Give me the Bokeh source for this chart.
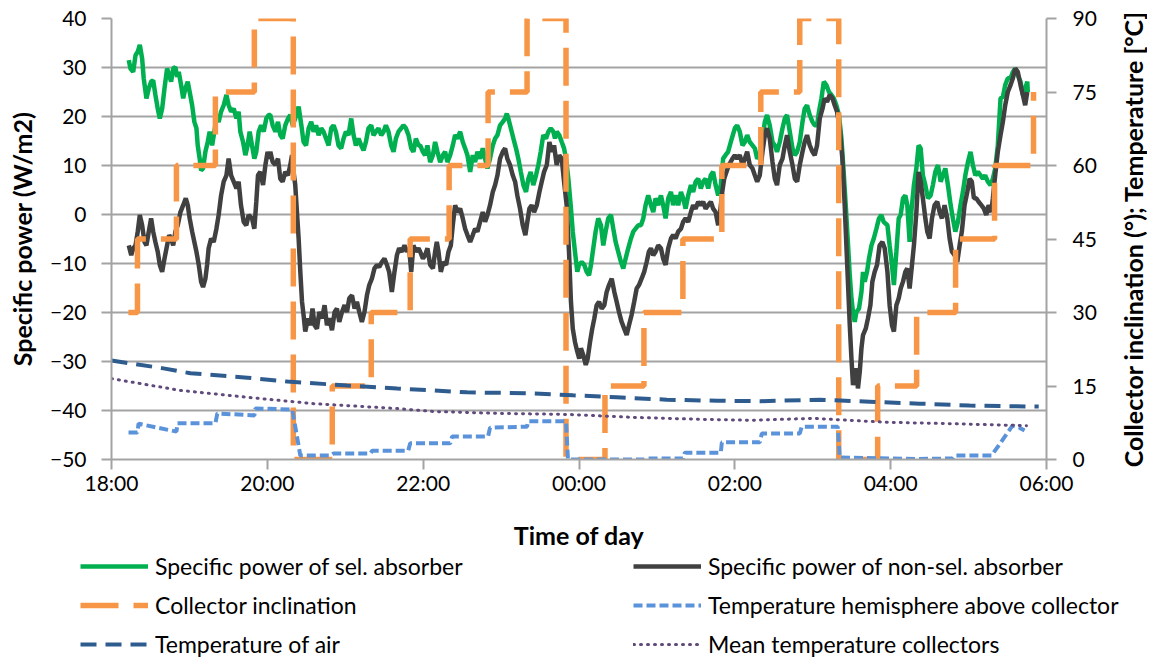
import math
from bokeh.plotting import figure
from bokeh.models import Range1d, LinearAxis, FixedTicker, Legend, LegendItem
from bokeh.core.properties import value
from bokeh.layouts import column, row
from bokeh.embed import file_html
from bokeh.resources import INLINE

FONT = "Lato"

# ---- axes ----
TIME_TICKS = [0, 120, 240, 360, 480, 600, 720]          # minutes after 18:00
TIME_LABELS = ["18:00", "20:00", "22:00", "00:00", "02:00", "04:00", "06:00"]
POWER_TICKS = [-50, -40, -30, -20, -10, 0, 10, 20, 30, 40]
TEMP_TICKS = [0, 15, 30, 45, 60, 75, 90]
RIGHT_TITLE = "Collector inclination (°); Temperature [°C]"

# ---- specific power of selective absorber (minutes after 18:00, W/m2) ----
SEL = [
    (13.3, 31.5), (14.6, 29.8), (16.7, 29.1), (18.5, 32.5), (20.2, 33.2), (21.8, 34.6), (23.6, 31.8),
    (24.8, 27.8), (26.9, 23.7), (28.7, 25.7), (30.5, 27.1), (32.1, 27.4), (33.8, 24.4), (35.6, 21.6),
    (37.2, 19.6), (39.0, 21.6), (40.8, 25.7), (42.8, 29.8), (44.4, 28.4), (45.9, 27.1), (47.5, 29.8),
    (49.2, 30.1), (50.5, 28.1), (51.8, 29.1), (53.6, 26.4), (55.2, 23.7), (56.9, 25.7), (58.7, 27.1),
    (60.2, 25.0), (62.1, 22.3), (63.8, 18.9), (65.4, 17.6), (66.4, 14.1), (67.9, 11.4), (69.0, 9.0),
    (70.5, 9.4), (72.3, 12.8), (74.1, 14.8), (75.6, 16.9), (77.5, 14.1), (79.2, 16.9), (80.8, 19.6),
    (82.5, 18.9), (84.4, 21.0), (86.4, 22.3), (88.5, 24.4), (90.2, 22.3), (92.1, 21.0), (94.1, 21.6),
    (96.2, 19.6), (97.9, 21.0), (99.2, 16.9), (101.3, 14.8), (103.1, 12.1), (104.8, 14.1), (106.4, 16.9),
    (108.2, 14.1), (110.0, 11.4), (111.5, 12.8), (113.3, 16.9), (115.2, 18.2), (117.2, 16.9), (119.2, 19.6),
    (121.0, 20.3), (122.3, 20.3), (124.1, 18.2), (126.2, 16.9), (128.2, 18.9), (130.0, 16.2), (131.8, 15.5),
    (133.8, 18.2), (135.9, 19.6), (137.7, 20.3), (139.5, 18.2), (141.5, 19.6), (144.1, 22.0), (146.2, 18.2),
    (147.9, 14.8), (149.8, 14.1), (151.8, 17.6), (153.8, 18.9), (155.6, 16.9), (157.5, 18.2), (159.5, 16.2),
    (161.5, 17.6), (163.3, 16.9), (165.2, 15.5), (167.2, 14.1), (169.2, 17.6), (171.0, 18.2), (172.8, 16.9),
    (174.8, 14.1), (176.9, 13.5), (178.7, 15.5), (180.5, 16.9), (182.5, 16.2), (184.6, 19.6), (186.4, 16.2),
    (188.2, 14.1), (190.2, 15.5), (192.3, 14.1), (194.1, 13.1), (195.9, 14.8), (197.9, 17.6), (200.0, 18.2),
    (201.8, 16.2), (203.6, 16.9), (205.6, 17.6), (207.7, 16.2), (209.5, 16.9), (211.3, 18.2), (213.3, 16.9),
    (215.4, 14.1), (217.2, 12.8), (219.0, 15.5), (221.0, 16.9), (223.1, 17.6), (224.8, 18.2), (226.7, 17.6),
    (228.7, 16.2), (230.8, 13.5), (232.5, 12.8), (234.4, 15.5), (236.4, 14.1), (237.7, 14.1), (239.8, 12.8),
    (241.5, 12.1), (243.3, 14.1), (245.4, 10.7), (247.5, 12.1), (249.2, 14.8), (251.0, 12.8), (253.1, 10.7),
    (255.2, 12.1), (256.9, 12.8), (258.7, 10.7), (260.8, 12.1), (262.8, 14.1), (264.6, 16.2), (266.4, 15.5),
    (268.5, 16.9), (270.5, 14.8), (272.3, 13.5), (274.1, 12.1), (276.2, 8.7), (278.2, 12.1), (280.0, 10.7),
    (281.8, 12.8), (283.8, 11.4), (285.9, 13.5), (287.7, 11.4), (289.5, 9.4), (291.5, 11.4), (293.6, 14.1),
    (295.4, 15.5), (297.2, 16.2), (299.2, 18.2), (301.3, 18.9), (303.1, 19.6), (304.4, 20.6), (305.6, 19.6),
    (307.5, 17.6), (309.5, 15.5), (311.5, 13.5), (313.3, 11.4), (315.2, 8.7), (317.2, 6.0), (319.2, 4.6),
    (321.0, 7.3), (322.8, 8.7), (324.8, 6.0), (326.9, 8.0), (328.7, 10.1), (330.5, 12.8), (332.5, 16.2),
    (334.6, 15.5), (336.4, 16.9), (338.2, 17.6), (340.2, 16.9), (341.5, 15.5), (342.8, 16.9), (344.8, 16.2),
    (346.7, 14.8), (348.5, 13.5), (350.0, 11.4), (351.8, 7.3), (353.6, 1.9), (355.2, -3.5), (356.9, -7.6),
    (358.7, -11.7), (360.0, -10.3), (362.1, -9.7), (364.1, -10.3), (365.9, -11.7), (367.7, -12.4),
    (369.2, -10.3), (371.0, -6.9), (372.8, -3.5), (374.8, -0.8), (376.9, -2.2), (378.7, -6.3), (380.5, -3.5),
    (382.5, -0.8), (384.6, -0.1), (386.4, -2.9), (388.2, -5.6), (390.2, -7.6), (392.3, -9.7), (394.1, -11.0),
    (395.9, -9.0), (397.9, -6.9), (400.0, -4.9), (401.8, -3.5), (403.6, -2.9), (405.6, -2.2), (407.7, -2.2),
    (409.5, -0.8), (411.3, 1.9), (413.3, 3.9), (415.4, 1.9), (417.2, 0.5), (419.0, 3.3), (421.0, 1.9),
    (423.1, 3.9), (424.8, 1.9), (426.7, -0.8), (428.7, 3.3), (430.8, 4.6), (432.5, 1.9), (434.4, 3.9),
    (436.4, 1.9), (438.5, 4.6), (440.2, 3.3), (442.1, 1.2), (444.1, 3.9), (446.2, 6.0), (447.9, 4.6),
    (449.8, 6.7), (451.8, 7.3), (453.8, 5.3), (455.6, 6.7), (457.5, 7.3), (459.5, 5.3), (461.5, 8.0),
    (463.3, 8.7), (465.2, 6.0), (467.2, 3.9), (469.2, 6.0), (471.0, 11.4), (472.8, 12.1), (474.8, 12.8),
    (476.9, 14.8), (480.0, 17.6), (481.8, 18.2), (483.8, 16.9), (485.9, 14.1), (487.7, 14.8), (489.5, 16.2),
    (491.5, 14.8), (493.6, 14.1), (495.4, 13.5), (497.2, 11.4), (499.2, 12.1), (501.3, 15.5), (503.1, 18.9),
    (504.8, 20.3), (506.9, 18.2), (509.0, 14.8), (510.8, 14.1), (512.5, 12.8), (514.6, 14.8), (516.7, 17.6),
    (518.5, 19.6), (520.2, 20.3), (522.3, 16.9), (524.4, 13.5), (526.2, 12.1), (528.0, 12.8), (530.0, 14.8),
    (532.1, 18.9), (533.8, 21.6), (535.6, 22.3), (537.7, 20.3), (539.8, 18.9), (541.5, 18.2), (543.3, 18.2),
    (544.8, 21.0), (546.7, 23.7), (548.5, 27.1), (550.5, 26.4), (552.5, 25.0), (554.4, 24.4), (556.2, 23.7),
    (558.2, 22.3), (560.2, 20.3), (562.1, 15.5), (563.8, 8.7), (565.4, 1.9), (567.2, -6.3), (568.5, -12.4),
    (569.8, -17.1), (571.0, -19.9), (572.3, -21.9), (573.6, -19.9), (575.6, -19.2), (577.5, -15.8),
    (578.7, -11.7), (580.0, -13.7), (581.8, -11.7), (583.3, -9.0), (585.2, -6.3), (587.0, -4.9),
    (589.0, -2.9), (591.0, -0.8), (592.8, -0.1), (594.6, -1.5), (597.5, -2.2), (599.2, -6.3), (601.0, -10.3),
    (602.5, -14.4), (604.4, -7.6), (606.2, -0.8), (607.7, -0.1), (609.5, 3.3), (611.3, 3.9), (612.8, 1.9),
    (614.6, -5.6), (615.9, 0.5), (617.9, 6.0), (619.8, 9.4), (621.5, 14.1), (623.1, 13.5), (624.8, 8.0),
    (626.7, 6.0), (628.7, 3.3), (630.8, 3.9), (632.5, 6.0), (634.4, 8.7), (636.4, 10.1), (638.5, 6.7),
    (640.2, 8.0), (642.1, 9.4), (644.1, 6.0), (646.2, 1.9), (647.9, -0.8), (649.8, -3.5), (651.8, -1.5),
    (653.8, 1.9), (655.6, 4.6), (657.5, 8.0), (659.5, 10.7), (661.5, 12.8), (663.3, 10.1), (665.2, 8.0),
    (667.2, 8.7), (669.2, 8.0), (671.0, 7.3), (672.8, 8.0), (674.8, 6.7), (676.9, 6.0), (678.7, 7.3),
    (680.5, 9.4), (682.5, 14.1), (684.6, 23.7), (686.4, 24.0), (688.2, 26.4), (690.2, 27.8), (692.3, 27.8),
    (694.1, 29.1), (695.9, 29.8), (697.9, 28.4), (700.0, 27.1), (701.8, 24.4), (703.6, 25.7), (705.2, 27.1),
    (705.6, 25.0),
]

# ---- specific power of non-selective absorber (minutes after 18:00, W/m2) ----
NONSEL = [
    (13.3, -6.3), (15.2, -8.3), (16.7, -6.9), (18.5, -6.3), (20.2, -3.5), (21.8, -0.1), (23.6, -2.2),
    (25.4, -5.6), (26.9, -6.3), (28.7, -3.5), (30.5, -0.8), (32.1, -3.5), (33.8, -5.6), (35.6, -7.6),
    (37.2, -10.3), (39.0, -11.7), (40.8, -9.0), (42.8, -6.3), (44.4, -4.2), (45.9, -4.9), (47.5, -6.3),
    (49.2, -3.5), (51.0, -2.2), (53.1, 0.5), (55.2, 1.9), (57.2, 3.3), (58.7, 1.9), (60.2, -0.8),
    (62.1, -3.5), (63.8, -5.6), (65.4, -7.6), (67.2, -10.3), (69.0, -13.7), (70.5, -14.8), (72.3, -13.1),
    (73.6, -10.3), (74.8, -6.9), (76.7, -4.9), (78.7, -5.6), (80.8, -2.9), (82.5, -0.1), (84.4, 3.9),
    (86.4, 6.7), (88.5, 8.0), (90.2, 11.4), (92.1, 8.0), (94.1, 6.7), (96.2, 5.3), (97.9, 6.7),
    (99.7, 1.9), (101.8, -1.5), (103.8, -2.2), (105.6, -0.1), (108.2, -0.8), (110.0, -2.9), (111.5, 2.6),
    (112.8, 8.0), (114.6, 8.7), (116.7, 6.0), (118.5, 10.1), (120.2, 12.8), (121.8, 11.4), (122.3, 12.8),
    (124.1, 10.7), (126.2, 10.1), (128.2, 11.4), (130.0, 7.3), (131.8, 6.7), (133.8, 8.7), (135.9, 8.0),
    (137.7, 10.1), (139.0, 12.1), (140.2, 8.7), (141.5, 6.0), (142.8, 0.5), (144.1, -4.9), (145.4, -11.7),
    (146.7, -17.8), (147.9, -20.5), (149.2, -23.9), (151.3, -21.2), (153.1, -22.6), (154.8, -19.2),
    (156.4, -22.6), (158.2, -23.3), (160.0, -19.9), (162.1, -21.2), (164.1, -18.5), (165.9, -22.6),
    (167.7, -21.2), (169.8, -23.6), (171.8, -19.9), (173.6, -19.2), (175.4, -21.9), (177.5, -19.9),
    (179.5, -18.5), (181.3, -19.9), (183.1, -17.1), (185.2, -16.5), (187.2, -19.2), (189.0, -17.8),
    (190.8, -19.9), (192.8, -21.9), (194.8, -19.9), (196.7, -16.5), (198.5, -14.4), (200.5, -13.1),
    (202.5, -11.0), (204.4, -10.3), (206.2, -10.7), (208.2, -9.7), (210.2, -9.0), (212.1, -10.3),
    (213.8, -11.7), (215.9, -15.8), (217.9, -11.7), (219.8, -8.3), (221.5, -6.9), (223.6, -7.6),
    (225.6, -6.3), (227.5, -7.6), (229.2, -6.9), (230.8, -11.7), (232.5, -6.3), (234.4, -7.6), (236.4, -6.9),
    (237.7, -7.6), (239.8, -9.0), (241.5, -8.3), (243.3, -6.9), (245.4, -10.3), (247.5, -11.0),
    (249.2, -7.6), (250.5, -5.6), (251.8, -7.6), (253.6, -11.7), (255.6, -9.7), (257.7, -10.3),
    (259.5, -7.6), (261.3, -6.3), (262.8, -2.2), (264.6, 1.9), (266.4, 0.5), (268.5, 1.2), (270.5, -0.8),
    (272.3, -2.9), (274.1, -4.2), (276.2, -5.6), (278.2, -4.2), (280.0, -2.9), (281.8, -3.5), (283.8, -1.5),
    (285.9, 0.5), (287.7, -1.5), (289.5, -0.1), (291.5, 1.9), (293.6, 4.6), (295.4, 6.0), (297.2, 8.0),
    (299.2, 11.4), (301.3, 12.8), (303.1, 13.5), (304.8, 11.4), (306.9, 10.1), (309.0, 8.0), (310.8, 6.7),
    (312.5, 3.9), (314.6, 1.2), (316.7, -2.2), (318.7, -4.2), (320.2, -1.5), (321.8, 1.2), (323.6, 1.9),
    (325.4, 0.5), (327.5, 1.9), (329.5, 4.6), (331.3, 6.7), (333.1, 8.7), (335.2, 10.1), (337.2, 14.8),
    (339.0, 12.8), (340.8, 14.1), (342.8, 10.1), (344.8, 12.1), (346.7, 11.4), (348.5, 6.7), (350.5, 1.9),
    (352.3, -7.6), (353.8, -17.8), (355.2, -23.3), (356.9, -26.0), (358.7, -28.0), (360.2, -29.4),
    (361.5, -27.3), (363.3, -28.7), (365.2, -30.7), (366.7, -29.4), (368.5, -26.0), (370.2, -23.3),
    (371.8, -21.2), (373.6, -18.5), (375.4, -17.8), (377.5, -19.2), (379.5, -18.5), (381.3, -15.8),
    (383.1, -14.4), (385.2, -13.1), (387.2, -15.8), (389.0, -17.8), (390.8, -19.9), (392.8, -21.9),
    (394.8, -23.3), (396.7, -24.6), (398.5, -22.6), (400.5, -20.5), (402.5, -17.8), (404.4, -15.1),
    (406.2, -14.4), (408.2, -13.1), (410.2, -11.7), (412.1, -9.7), (413.8, -7.6), (415.4, -6.9),
    (417.2, -8.3), (419.0, -7.6), (421.0, -6.3), (423.1, -6.9), (424.8, -9.0), (426.7, -10.3), (428.7, -6.9),
    (430.8, -4.9), (432.5, -4.2), (434.4, -4.9), (436.4, -3.5), (438.5, -2.9), (440.2, -1.5), (442.1, -0.8),
    (444.1, -1.5), (446.2, 0.5), (447.9, 1.9), (449.8, 1.2), (451.8, 2.6), (453.8, 1.9), (455.6, 2.6),
    (457.5, 1.2), (459.5, 1.9), (461.5, 2.6), (463.3, 1.2), (465.2, 0.5), (467.2, -2.2), (468.7, 0.5),
    (470.3, 4.6), (471.8, 7.3), (473.6, 8.7), (475.4, 10.1), (478.2, 11.4), (480.0, 12.1), (481.8, 11.4),
    (483.8, 12.1), (485.9, 10.1), (487.7, 11.4), (489.5, 12.8), (491.5, 10.1), (493.6, 9.4), (495.4, 8.0),
    (497.2, 6.7), (499.2, 8.0), (501.3, 12.8), (503.1, 16.2), (504.8, 17.6), (506.9, 15.5), (509.0, 10.7),
    (510.8, 7.3), (512.5, 6.0), (514.6, 10.1), (516.7, 11.4), (518.5, 14.1), (520.2, 16.2), (522.3, 12.8),
    (524.4, 10.1), (526.2, 7.3), (528.0, 6.7), (530.0, 10.1), (532.1, 12.8), (533.8, 14.8), (535.6, 16.2),
    (537.7, 14.1), (539.8, 12.8), (541.5, 12.1), (543.3, 14.1), (545.4, 19.6), (547.5, 21.6), (549.2, 23.7),
    (551.0, 23.0), (553.1, 24.4), (555.2, 23.7), (556.9, 22.3), (558.7, 21.0), (560.8, 17.6), (562.8, 11.4),
    (564.6, 1.9), (565.9, -6.3), (567.2, -14.4), (568.5, -22.6), (569.8, -29.4), (571.0, -34.8),
    (572.3, -32.8), (573.6, -31.4), (574.8, -35.5), (576.2, -32.1), (577.5, -27.3), (578.7, -24.6),
    (580.8, -23.3), (582.5, -21.2), (584.4, -18.5), (585.9, -13.7), (587.7, -11.7), (589.5, -10.3),
    (591.5, -6.3), (593.6, -5.6), (595.4, -6.9), (597.5, -11.7), (599.2, -18.5), (601.0, -22.6),
    (602.5, -23.9), (604.4, -18.5), (606.2, -17.1), (607.7, -15.1), (609.5, -13.7), (611.3, -11.7),
    (612.8, -11.0), (614.6, -15.1), (616.4, -10.3), (617.9, -6.3), (619.8, 0.5), (621.5, 8.7), (623.1, 6.7),
    (624.8, 3.3), (626.7, -0.8), (628.2, -3.5), (630.0, -4.9), (631.8, -0.8), (633.8, 1.9), (635.9, 2.6),
    (637.7, 0.5), (639.5, -0.8), (641.5, 1.9), (643.6, -0.8), (645.4, -4.9), (647.2, -7.6), (649.2, -8.3),
    (651.3, -9.7), (653.1, -6.3), (654.8, -3.5), (656.9, 1.9), (659.0, 4.6), (660.8, 7.3), (662.5, 6.7),
    (664.1, 3.3), (665.9, 3.3), (667.7, 2.6), (669.8, 1.9), (671.8, 1.2), (673.6, -0.1), (675.4, 1.9),
    (677.5, 0.5), (678.7, 3.3), (680.5, 8.0), (682.5, 12.8), (684.6, 16.2), (686.4, 18.9), (688.2, 22.3),
    (690.2, 25.0), (692.3, 26.4), (694.1, 27.8), (695.9, 29.8), (697.9, 29.1), (700.0, 26.4), (701.8, 24.4),
    (703.6, 22.3), (705.2, 25.0),
]

# ---- collector inclination (deg), value holds from each time on ----
INCL_T = [13, 20, 50, 80, 110, 140, 170, 200, 230, 260, 290, 320, 350,
          380, 410, 440, 470, 500, 530, 560, 590, 620, 650, 680, 710]
INCL_V = [30, 45, 60, 75, 90, 0, 15, 30, 45, 60, 75, 90, 0,
          15, 30, 45, 60, 75, 90, 0, 15, 30, 45, 60, 75]

# ---- temperature hemisphere above collector (degC) ----
HEMI = [
    (13.1, 5.5), (20.0, 5.5), (20.8, 7.3), (50.0, 5.7), (50.8, 7.4), (80.0, 7.4), (81.5, 9.4),
    (110.0, 9.0), (110.8, 10.4), (139.2, 10.2), (145.4, 0.8), (168.5, 0.8), (170.8, 1.2), (199.2, 1.2),
    (200.8, 1.8), (228.5, 1.8), (230.0, 3.3), (260.8, 3.3), (262.3, 4.7), (290.0, 4.7), (291.5, 6.5),
    (320.0, 6.7), (320.8, 7.8), (350.0, 7.8), (351.5, 0.0), (410.0, 0.0), (410.8, 0.2), (440.0, 0.2),
    (441.5, 1.4), (469.2, 1.4), (470.0, 3.5), (499.2, 3.5), (500.8, 5.3), (530.0, 5.3), (531.5, 6.7),
    (559.2, 6.7), (560.8, 0.4), (620.0, 0.1), (647.7, 0.2), (649.2, 0.8), (677.7, 0.8), (693.8, 6.9),
    (699.2, 6.5), (703.1, 5.9),
]

# ---- temperature of air (degC) ----
AIR = [
    (0.0, 20.2), (40.0, 18.6), (60.8, 17.6), (104.6, 16.7), (135.4, 15.9), (181.5, 15.1), (220.0, 14.5),
    (273.8, 13.7), (324.6, 13.5), (355.4, 13.1), (389.2, 12.7), (427.7, 12.2), (466.2, 12.0), (500.0, 11.9),
    (545.4, 12.2), (583.8, 11.8), (622.3, 11.4), (660.8, 11.0), (714.0, 10.8),
]

# ---- mean temperature collectors (degC) ----
MEAN = [
    (0.0, 16.5), (53.1, 14.1), (104.6, 12.7), (155.4, 11.4), (220.0, 10.4), (247.7, 9.8), (299.2, 9.4),
    (350.8, 9.2), (401.5, 8.6), (453.1, 8.2), (493.8, 8.0), (540.0, 8.4), (596.9, 7.6), (647.7, 7.3),
    (704.6, 6.9),
]

LEFT_LABELS = ["Specific power of sel. absorber", "Collector inclination", "Temperature of air"]
RIGHT_LABELS = ["Specific power of non-sel. absorber", "Temperature hemisphere above collector",
                "Mean temperature collectors"]

GRID = "#A3A3A3"
TXT = "#000000"

STY_SEL = dict(line_color="#00B050", line_width=4.5)
STY_NON = dict(line_color="#404040", line_width=4.5)
STY_INC = dict(line_color="#F79646", line_width=5.5, line_dash="38 15")
STY_HEMI = dict(line_color="#5B93DB", line_width=4, line_dash="9 4")
STY_AIR = dict(line_color="#2F5C8F", line_width=4, line_dash="16 9")
STY_MEAN = dict(line_color="#604A7B", line_width=3, line_dash="1 6", line_cap="round")

# layout sizes (pixels)
W_MAIN, H_MAIN = 1117, 552
W_TITLE = 30
H_LEGEND = 106
B_LEFT, B_RIGHT, B_TOP, B_BOTTOM = 111, 71, 18, 93


def bare(fig):
    fig.frame_align = False
    fig.grid.visible = False
    return fig


# ---- main chart ----
p = figure(width=W_MAIN, height=H_MAIN, output_backend="svg", toolbar_location=None,
           x_range=Range1d(0, 720), y_range=Range1d(-50, 40),
           min_border_left=B_LEFT, min_border_right=B_RIGHT, min_border_top=B_TOP,
           min_border_bottom=B_BOTTOM,
           outline_line_color=None, background_fill_color="white", border_fill_color="white")
p.frame_align = False
p.extra_y_ranges = {"temp": Range1d(0, 90)}

p.xaxis.ticker = FixedTicker(ticks=TIME_TICKS)
p.xaxis.major_label_overrides = {t: l for t, l in zip(TIME_TICKS, TIME_LABELS)}
p.yaxis.ticker = FixedTicker(ticks=POWER_TICKS)
p.xaxis.axis_label = "Time of day"
p.yaxis.axis_label = "Specific power (W/m2)"

right = LinearAxis(y_range_name="temp", ticker=FixedTicker(ticks=TEMP_TICKS))
p.add_layout(right, "right")

for ax in [p.xaxis[0], p.yaxis[0], right]:
    ax.axis_line_color = GRID
    ax.axis_line_width = 2
    ax.major_tick_line_color = GRID
    ax.major_tick_line_width = 2
    ax.major_tick_in = 0
    ax.major_tick_out = 10
    ax.minor_tick_line_color = None
    ax.major_label_text_font = FONT
    ax.major_label_text_font_size = "21px"
    ax.major_label_text_color = TXT
    ax.axis_label_text_font = FONT
    ax.axis_label_text_font_size = "25px"
    ax.axis_label_text_font_style = "bold"
    ax.axis_label_text_color = TXT

p.yaxis[0].major_label_standoff = 15
right.major_label_standoff = 16
p.xaxis[0].major_label_standoff = 0
p.yaxis[0].axis_label_standoff = 10
p.xaxis[0].axis_label_standoff = 22

p.xgrid.grid_line_color = None
p.ygrid.grid_line_color = GRID
p.ygrid.grid_line_width = 2
p.ygrid.ticker = FixedTicker(ticks=POWER_TICKS)

# series (primary axis first, secondary axis on top, as in the original)
p.line([a for a, b in SEL], [b for a, b in SEL], **STY_SEL)
p.line([a for a, b in NONSEL], [b for a, b in NONSEL], **STY_NON)
p.step(INCL_T, INCL_V, mode="after", y_range_name="temp", **STY_INC)
p.line([a for a, b in HEMI], [b for a, b in HEMI], y_range_name="temp", **STY_HEMI)
p.line([a for a, b in AIR], [b for a, b in AIR], y_range_name="temp", **STY_AIR)
p.line([a for a, b in MEAN], [b for a, b in MEAN], y_range_name="temp", **STY_MEAN)

# ---- right axis title strip (reads bottom to top, as in the original) ----
frame_h = H_MAIN - B_TOP - B_BOTTOM
per_px = (POWER_TICKS[-1] - POWER_TICKS[0]) / frame_h
rt = bare(figure(width=W_TITLE, height=H_MAIN, output_backend="svg", toolbar_location=None,
                 x_range=Range1d(-1, 1),
                 y_range=Range1d(POWER_TICKS[0] - B_BOTTOM * per_px, POWER_TICKS[-1] + B_TOP * per_px),
                 x_axis_location=None, y_axis_location=None,
                 min_border_left=0, min_border_right=0, min_border_top=0, min_border_bottom=0,
                 outline_line_color=None, background_fill_color=None, border_fill_color="white"))
rt.text(x=[0], y=[(POWER_TICKS[0] + POWER_TICKS[-1]) / 2], text=[RIGHT_TITLE], angle=math.pi / 2,
        text_align="center", text_baseline="middle", text_font=value(FONT),
        text_font_style="bold", text_font_size="25px", text_color=TXT)

# ---- legend strip below the chart (proxy renderers without visible data) ----
lg = bare(figure(width=W_MAIN + W_TITLE, height=H_LEGEND, output_backend="svg", toolbar_location=None,
                 x_range=Range1d(0, 1), y_range=Range1d(0, 1),
                 x_axis_location=None, y_axis_location=None,
                 min_border_left=0, min_border_right=0, min_border_top=0, min_border_bottom=0,
                 outline_line_color=None, background_fill_color="white", border_fill_color="white"))

NAN = [float("nan")]
left_r = [lg.line(NAN, NAN, **s) for s in (STY_SEL, STY_INC, STY_AIR)]
right_r = [lg.line(NAN, NAN, **s) for s in (STY_NON, STY_HEMI, STY_MEAN)]

common = dict(orientation="vertical", glyph_width=68, glyph_height=28, label_height=28,
              label_standoff=7, spacing=11, padding=0, margin=0,
              label_text_font=FONT, label_text_font_size="23px", label_text_color=TXT,
              border_line_color=None, background_fill_alpha=0)
leg1 = Legend(items=[LegendItem(label=t, renderers=[r]) for t, r in zip(LEFT_LABELS, left_r)],
              location=(80, 0), **common)
leg2 = Legend(items=[LegendItem(label=t, renderers=[r]) for t, r in zip(RIGHT_LABELS, right_r)],
              location=(633, 0), **common)
lg.add_layout(leg1, "center")
lg.add_layout(leg2, "center")

layout = column(row(p, rt, spacing=0), lg, spacing=0)
open("out.html", "w").write(file_html(layout, INLINE))
